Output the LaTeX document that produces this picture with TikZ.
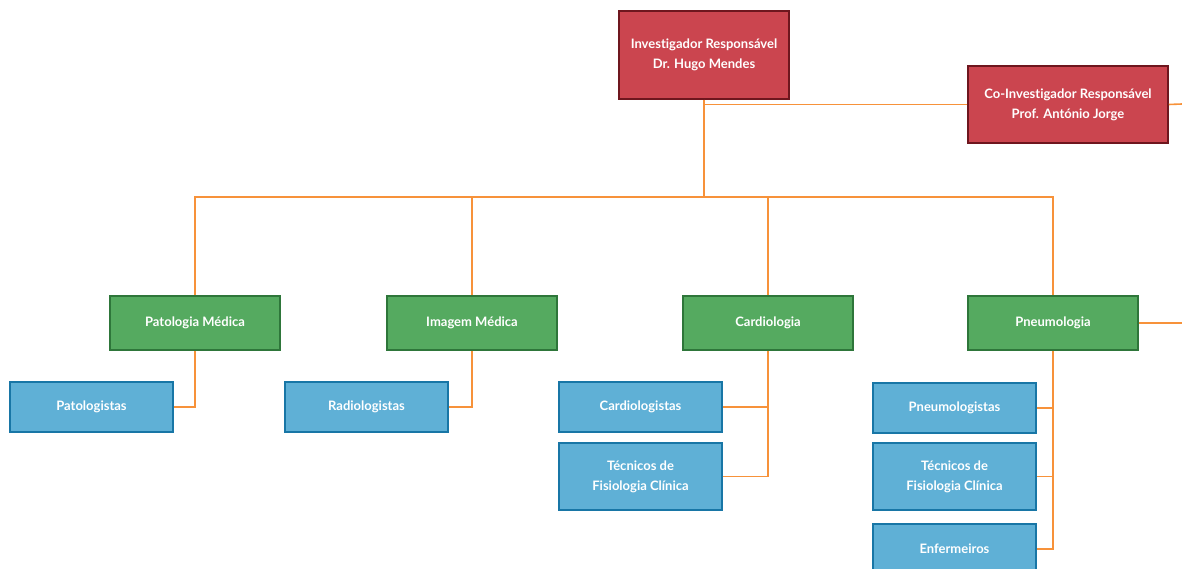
\documentclass[tikz,border=0pt]{standalone}
\usepackage{fontspec}
\setmainfont{Lato}[Ligatures=NoCommon]

\definecolor{redfill}{RGB}{203,69,79}
\definecolor{redline}{RGB}{110,22,30}
\definecolor{greenfill}{RGB}{85,170,96}
\definecolor{greenline}{RGB}{46,118,58}
\definecolor{bluefill}{RGB}{95,176,214}
\definecolor{blueline}{RGB}{24,118,166}
\definecolor{linkcol}{RGB}{247,146,58}

\tikzset{
	unit/.style={draw, line width=1.5pt, text=white, align=center, minimum height=#1,
		font=\bfseries\fontsize{13}{20}\selectfont, inner sep=0pt},
	chief/.style={unit=88pt, fill=redfill, draw=redline, minimum width=170pt},
	dept/.style={unit=54pt, fill=greenfill, draw=greenline, minimum width=170pt},
	staff/.style={unit=#1, fill=bluefill, draw=blueline, minimum width=163pt},
	link/.style={draw=linkcol, line width=1.6pt}
}

\begin{document}
\begin{tikzpicture}[x=1pt, y=-1pt]

	\useasboundingbox (0,0) rectangle (1182,569);
	\clip (0,0) rectangle (1182,569);

	% Coordinates
	\coordinate (hub) at (704,197);
	\coordinate (coright) at (1182,104);
	\coordinate (pneuright) at (1182,323);

	% Heads
	\node[chief] (inv) at (704,55) {Investigador Responsável\\Dr. Hugo Mendes};
	\node[chief, minimum width=200pt, minimum height=77pt] (coinv) at (1068,104.5)
		{Co-Investigador Responsável\\Prof. António Jorge};

	% Departments
	\node[dept] (patmed) at (195,323) {Patologia Médica};
	\node[dept] (imgmed) at (472,323) {Imagem Médica};
	\node[dept] (cardio) at (768,323) {Cardiologia};
	\node[dept] (pneumo) at (1053,323) {Pneumologia};

	% Staff
	\node[staff=50pt] (patol) at (91.5,407) {Patologistas};
	\node[staff=50pt] (radiol) at (366.5,407) {Radiologistas};
	\node[staff=50pt] (cardiol) at (640.5,407) {Cardiologistas};
	\node[staff=67pt] (teccardio) at (640.5,476.5) {Técnicos de\\Fisiologia Clínica};
	\node[staff=50pt] (pneumol) at (954.5,408) {Pneumologistas};
	\node[staff=67pt] (tecpneumo) at (954.5,476.5) {Técnicos de\\Fisiologia Clínica};
	\node[staff=50pt] (enferm) at (954.5,549) {Enfermeiros};

	% Links heads
	\draw[link] (inv.south) -- (hub);
	\draw[link] (inv.south |- coinv.west) -- (coinv.west);
	\draw[link] (coinv.east) -- (coright);

	% Links departments
	\draw[link] (hub) -| (patmed.north);
	\draw[link] (hub) -| (imgmed.north);
	\draw[link] (hub) -| (cardio.north);
	\draw[link] (hub) -| (pneumo.north);
	\draw[link] (pneumo.east) -- (pneuright);

	% Links staff
	\draw[link] (patmed.south) |- (patol.east);
	\draw[link] (imgmed.south) |- (radiol.east);
	\draw[link] (cardio.south) |- (teccardio.east);
	\draw[link] (cardio.south |- cardiol.east) -- (cardiol.east);
	\draw[link] (pneumo.south) |- (enferm.east);
	\draw[link] (pneumo.south |- pneumol.east) -- (pneumol.east);
	\draw[link] (pneumo.south |- tecpneumo.east) -- (tecpneumo.east);

\end{tikzpicture}
\end{document}
